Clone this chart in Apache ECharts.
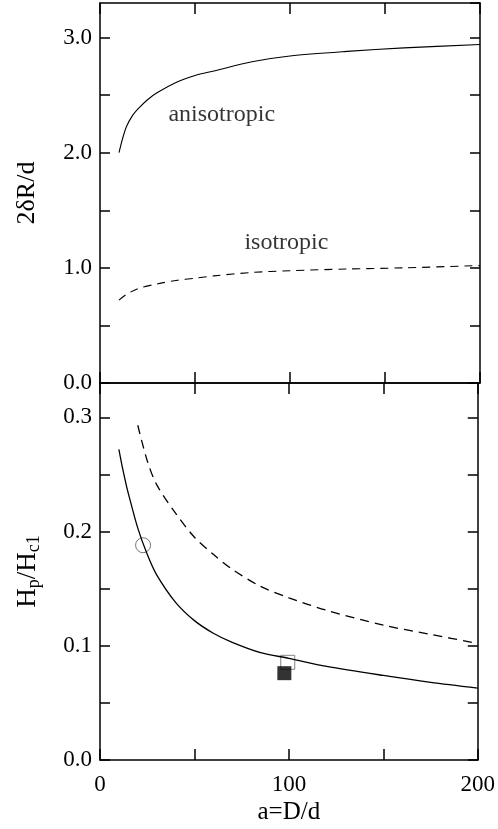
<!DOCTYPE html>
<html>
<head>
<meta charset="utf-8">
<script src="https://cdn.jsdelivr.net/npm/echarts@6/dist/echarts.min.js"></script>
<style>
html,body{margin:0;padding:0;background:#fff;}
#container{width:498px;height:829px;}
</style>
</head>
<body>
<div id="container"></div>
<script>
// top panel: 2δR/d
var anisoX = [10, 12, 14, 17, 20, 25, 30, 40, 50, 60, 80, 100, 130, 160, 200];
var anisoY = [2.00, 2.13, 2.23, 2.32, 2.38, 2.46, 2.52, 2.61, 2.67, 2.71, 2.79, 2.84, 2.88, 2.91, 2.94];
var isoX = [10, 14, 20, 30, 40, 50, 60, 80, 100, 130, 160, 200];
var isoY = [0.72, 0.77, 0.82, 0.86, 0.89, 0.91, 0.93, 0.96, 0.975, 0.99, 1.00, 1.02];

// bottom panel: Hp/Hc1
var hpSolidX = [10, 12, 14, 16, 20, 25, 30, 40, 50, 60, 70, 85, 100, 120, 150, 175, 200];
var hpSolidY = [0.272, 0.255, 0.240, 0.227, 0.203, 0.180, 0.162, 0.138, 0.122, 0.111, 0.103, 0.094, 0.089, 0.082, 0.074, 0.068, 0.063];
var hpDashX = [20, 25, 30, 40, 50, 60, 70, 85, 100, 120, 150, 175, 200];
var hpDashY = [0.293, 0.262, 0.241, 0.216, 0.195, 0.180, 0.167, 0.152, 0.142, 0.131, 0.118, 0.110, 0.102];

// measured points
var openCircle = [[22.8, 0.188]];
var openSquare = [[99.4, 0.0855]];
var filledSquare = [[97.6, 0.076]];

// curve labels [x, y, text]
var topLabels = [[36, 2.33, 'anisotropic'], [76, 1.22, 'isotropic']];

var FONT = '"Liberation Serif", "DejaVu Serif", serif';

function pairs(xs, ys) {
	var r = [];
	for (var i = 0; i < xs.length; i++) r.push([xs[i], ys[i]]);
	return r;
}

function xAxisCfg(grid, pos, labels) {
	return {
		type: 'value', gridIndex: grid, position: pos,
		min: 0, max: 200, interval: 50,
		axisLine: {show: true, onZero: false, lineStyle: {color: '#000', width: 1.5}},
		axisTick: {show: true, inside: true, length: 11, lineStyle: {color: '#000', width: 1.5}},
		axisLabel: {
			show: labels, margin: 13, color: '#000', fontFamily: FONT, fontSize: 23,
			formatter: function (v) { return v % 100 === 0 ? String(v) : ''; }
		},
		splitLine: {show: false}
	};
}

function yAxisCfg(grid, pos, max, interval, labelStep, labels) {
	return {
		type: 'value', gridIndex: grid, position: pos,
		min: 0, max: max, interval: interval,
		axisLine: {show: true, onZero: false, lineStyle: {color: '#000', width: 1.5}},
		axisTick: {show: true, inside: true, length: 10, lineStyle: {color: '#000', width: 1.5}},
		axisLabel: {
			show: labels, margin: 8, color: '#000', fontFamily: FONT, fontSize: 23,
			showMaxLabel: false,
			formatter: function (v) {
				var k = v / labelStep;
				return Math.abs(k - Math.round(k)) < 1e-6 ? v.toFixed(1) : '';
			}
		},
		splitLine: {show: false}
	};
}

var chart = echarts.init(document.getElementById('container'));

var yTopLeft = yAxisCfg(0, 'left', 3.3, 0.5, 1, true);
yTopLeft.name = '2δR/d';
yTopLeft.nameLocation = 'middle';
yTopLeft.nameRotate = 90;
yTopLeft.nameGap = 60;
yTopLeft.nameTextStyle = {color: '#000', fontFamily: FONT, fontSize: 26};

var yBotLeft = yAxisCfg(1, 'left', 0.33, 0.05, 0.1, true);
yBotLeft.name = '{a|H}{b|p}{a|/H}{b|c1}';
yBotLeft.nameLocation = 'middle';
yBotLeft.nameRotate = 90;
yBotLeft.nameGap = 57;
yBotLeft.nameTextStyle = {
	color: '#000', fontFamily: FONT, fontSize: 26,
	rich: {
		a: {fontFamily: FONT, fontSize: 27, color: '#000'},
		b: {fontFamily: FONT, fontSize: 18, color: '#000', padding: [12, 0, 0, 0]}
	}
};

var xBot = xAxisCfg(1, 'bottom', true);
xBot.name = 'a=D/d';
xBot.nameLocation = 'middle';
xBot.nameGap = 40;
xBot.nameTextStyle = {color: '#000', fontFamily: FONT, fontSize: 25};

chart.setOption({
	animation: false,
	backgroundColor: '#fff',
	grid: [
		{left: 100, right: 18, top: 3, height: 380},
		{left: 100, right: 18, top: 383, height: 377}
	],
	xAxis: [
		xAxisCfg(0, 'bottom', false),
		xAxisCfg(0, 'top', false),
		xBot,
		xAxisCfg(1, 'top', false)
	],
	yAxis: [
		yTopLeft,
		yAxisCfg(0, 'right', 3.3, 0.5, 1, false),
		yBotLeft,
		yAxisCfg(1, 'right', 0.33, 0.05, 0.1, false)
	],
	series: [
		{
			type: 'line', xAxisIndex: 0, yAxisIndex: 0, data: pairs(anisoX, anisoY),
			smooth: 0.3, showSymbol: false,
			lineStyle: {color: '#000', width: 1.1}
		},
		{
			type: 'line', xAxisIndex: 0, yAxisIndex: 0, data: pairs(isoX, isoY),
			smooth: 0.3, showSymbol: false,
			lineStyle: {color: '#000', width: 1.1, type: [8, 6]}
		},
		{
			type: 'scatter', xAxisIndex: 0, yAxisIndex: 0, symbolSize: 0,
			data: topLabels.map(function (d) { return {value: [d[0], d[1]], name: d[2]}; }),
			label: {
				show: true, position: 'right', distance: 0, formatter: '{b}',
				color: '#000', fontFamily: FONT, fontSize: 24
			}
		},
		{
			type: 'line', xAxisIndex: 2, yAxisIndex: 2, data: pairs(hpSolidX, hpSolidY),
			smooth: 0.3, showSymbol: false,
			lineStyle: {color: '#000', width: 1.3}
		},
		{
			type: 'line', xAxisIndex: 2, yAxisIndex: 2, data: pairs(hpDashX, hpDashY),
			smooth: 0.3, showSymbol: false,
			lineStyle: {color: '#000', width: 1.3, type: [9, 6]}
		},
		{
			type: 'scatter', xAxisIndex: 2, yAxisIndex: 2, data: openCircle,
			symbol: 'circle', symbolSize: 15,
			itemStyle: {color: 'rgba(0,0,0,0)', borderColor: '#555', borderWidth: 1}
		},
		{
			type: 'scatter', xAxisIndex: 2, yAxisIndex: 2, data: openSquare,
			symbol: 'rect', symbolSize: 14,
			itemStyle: {color: 'rgba(0,0,0,0)', borderColor: '#666', borderWidth: 1}
		},
		{
			type: 'scatter', xAxisIndex: 2, yAxisIndex: 2, data: filledSquare,
			symbol: 'rect', symbolSize: 14,
			itemStyle: {color: '#000'}
		}
	]
});
</script>
</body>
</html>
